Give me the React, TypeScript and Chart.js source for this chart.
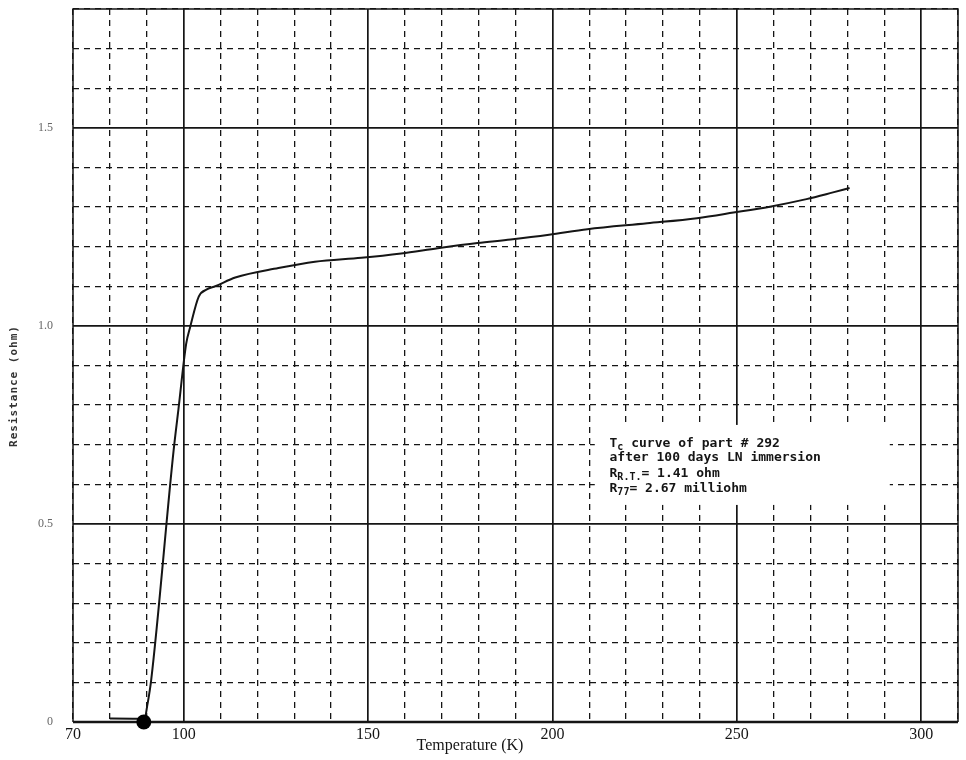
import React, { useEffect, useRef } from "react";
import { Chart, registerables } from "chart.js";

Chart.register(...registerables);

// ---- data ----
const temperatureK = [
  80, 87.5, 89.2, 90.2, 91.2, 97.3, 98.6, 100.7, 101.8, 104.1, 106.3, 108.6, 114,
  125.7, 135.6, 148.2, 159, 168.9, 179.7, 188.7, 199.1, 209.5, 225.7, 239.2, 249.1,
  259, 268.9, 276.1, 280.6,
];
const resistanceOhm = [
  0.009, 0.008, 0, 0.045, 0.106, 0.687, 0.79, 0.955, 0.998, 1.074, 1.092, 1.1, 1.122,
  1.146, 1.162, 1.172, 1.183, 1.196, 1.209, 1.218, 1.23, 1.244, 1.259, 1.272, 1.286,
  1.301, 1.32, 1.337, 1.348,
];
const markerTemp = [89.2];
const markerRes = [0];

const xTickLabels = [70, 100, 150, 200, 250, 300];
const yTickLabels = ["0", "0.5", "1.0", "1.5"];

const X_MIN = 70;
const X_MAX = 310;
const Y_MIN = 0;
const Y_MAX = 1.8;

// annotation (text box) in data units: [xLeft, xRight, yBottom, yTop]
const NOTE_BOX = [211.5, 291.5, 0.548, 0.75];
const NOTE_ANCHOR = [215.5, 0.695];

const INK = "#151515";

function drawSub(ctx: CanvasRenderingContext2D, x: number, y: number, main: string, sub: string, rest: string) {
  ctx.font = "bold 13px 'DejaVu Sans Mono'";
  ctx.fillText(main, x, y);
  let cx = x + ctx.measureText(main).width;
  ctx.font = "bold 10px 'DejaVu Sans Mono'";
  ctx.fillText(sub, cx, y + 3);
  cx += ctx.measureText(sub).width;
  ctx.font = "bold 13px 'DejaVu Sans Mono'";
  ctx.fillText(rest, cx, y);
}

const paperPlugin = {
  id: "paper",
  beforeDatasetsDraw(chart: any) {
    const { ctx, chartArea, scales } = chart;
    const xs = scales.x;
    const ys = scales.y;
    ctx.save();
    const l = xs.getPixelForValue(NOTE_BOX[0]);
    const r = xs.getPixelForValue(NOTE_BOX[1]);
    const t = ys.getPixelForValue(NOTE_BOX[3]);
    const b = ys.getPixelForValue(NOTE_BOX[2]);
    ctx.fillStyle = "#ffffff";
    ctx.fillRect(l, t, r - l, b - t);
    ctx.strokeStyle = INK;
    ctx.lineWidth = 1.5;
    ctx.beginPath();
    ctx.moveTo(chartArea.left, chartArea.bottom);
    ctx.lineTo(chartArea.left, chartArea.top);
    ctx.lineTo(chartArea.right, chartArea.top);
    ctx.lineTo(chartArea.right, chartArea.bottom);
    ctx.stroke();
    ctx.lineWidth = 2.5;
    ctx.beginPath();
    ctx.moveTo(chartArea.left, chartArea.bottom);
    ctx.lineTo(chartArea.right, chartArea.bottom);
    ctx.stroke();
    ctx.restore();
  },
  afterDraw(chart: any) {
    const { ctx, scales } = chart;
    const xs = scales.x;
    const ys = scales.y;
    ctx.save();
    ctx.fillStyle = INK;
    ctx.textBaseline = "alphabetic";
    ctx.textAlign = "left";
    const ax = xs.getPixelForValue(NOTE_ANCHOR[0]);
    const ay = ys.getPixelForValue(NOTE_ANCHOR[1]);
    drawSub(ctx, ax, ay, "T", "c", " curve of part # 292");
    ctx.font = "bold 13px 'DejaVu Sans Mono'";
    ctx.fillText("after 100 days LN immersion", ax, ay + 14);
    drawSub(ctx, ax, ay + 30, "R", "R.T.", "= 1.41 ohm");
    drawSub(ctx, ax, ay + 45, "R", "77", "= 2.67 milliohm");

    ctx.font = "16px 'Liberation Serif'";
    ctx.textAlign = "center";
    ctx.textBaseline = "middle";
    ctx.fillText("Temperature (K)", 470, 746);

    ctx.translate(14, 386);
    ctx.rotate(-Math.PI / 2);
    ctx.font = "bold 11px 'DejaVu Sans Mono'";
    (ctx as any).letterSpacing = "1px";
    ctx.fillStyle = "#333";
    ctx.fillText("Resistance (ohm)", 0, 0);
    ctx.restore();
  },
};

export default function App() {
  const ref = useRef<HTMLCanvasElement | null>(null);

  useEffect(() => {
    if (!ref.current) return;
    const curve = temperatureK.map((t, i) => ({ x: t, y: resistanceOhm[i] }));
    const marker = markerTemp.map((t, i) => ({ x: t, y: markerRes[i] }));

    const isMajorX = (v: number) => Math.round(v) % 50 === 0;
    const isMajorY = (v: number) => Math.round(v * 10) % 5 === 0;

    const chart = new Chart(ref.current, {
      type: "scatter",
      data: {
        datasets: [
          {
            data: marker,
            showLine: false,
            pointRadius: 7.5,
            pointBackgroundColor: "#000",
            pointBorderColor: "#000",
            pointBorderWidth: 0,
            clip: false,
            order: 0,
          },
          {
            data: curve,
            showLine: true,
            borderColor: INK,
            borderWidth: 2,
            pointRadius: 0,
            cubicInterpolationMode: "monotone",
            order: 1,
          },
        ],
      },
      plugins: [paperPlugin],
      options: {
        animation: false,
        responsive: false,
        devicePixelRatio: 1,
        layout: { padding: { top: 9, right: 8, left: 0, bottom: 0 } },
        plugins: { legend: { display: false }, tooltip: { enabled: false } },
        scales: {
          x: {
            type: "linear",
            min: X_MIN,
            max: X_MAX,
            afterFit: (s: any) => {
              s.height = 38;
              s.paddingLeft = 0;
              s.paddingRight = 0;
            },
            ticks: {
              stepSize: 10,
              autoSkip: false,
              maxRotation: 0,
              padding: 3,
              color: INK,
              font: { family: "'Liberation Serif'", size: 16 },
              callback: (v: any) => (xTickLabels.includes(Math.round(Number(v))) ? String(Math.round(Number(v))) : ""),
            },
            grid: {
              drawTicks: false,
              color: INK,
              lineWidth: (c: any) => (c.tick && isMajorX(c.tick.value) ? 1.7 : 1.3),
            },
            border: {
              display: false,
              dash: (c: any) => (c.tick && isMajorX(c.tick.value) ? [] : [6, 5]),
            },
          },
          y: {
            type: "linear",
            min: Y_MIN,
            max: Y_MAX,
            afterFit: (s: any) => {
              s.width = 73;
              s.paddingTop = 0;
              s.paddingBottom = 0;
            },
            ticks: {
              stepSize: 0.1,
              autoSkip: false,
              padding: 20,
              color: "#666",
              font: { family: "'Liberation Serif'", size: 12 },
              callback: (v: any) => {
                const k = Math.round(Number(v) * 10);
                return k % 5 === 0 ? yTickLabels[k / 5] ?? "" : "";
              },
            },
            grid: {
              drawTicks: false,
              color: INK,
              lineWidth: (c: any) => (c.tick && isMajorY(c.tick.value) ? 1.7 : 1.3),
            },
            border: {
              display: false,
              dash: (c: any) => (c.tick && isMajorY(c.tick.value) ? [] : [6, 5]),
            },
          },
        },
      },
    } as any);
    return () => chart.destroy();
  }, []);

  return (
    <div style={{ position: "absolute", left: 0, top: 0, width: 966, height: 760, background: "#fff" }}>
      <canvas ref={ref} width={966} height={760} style={{ display: "block" }} />
    </div>
  );
}
